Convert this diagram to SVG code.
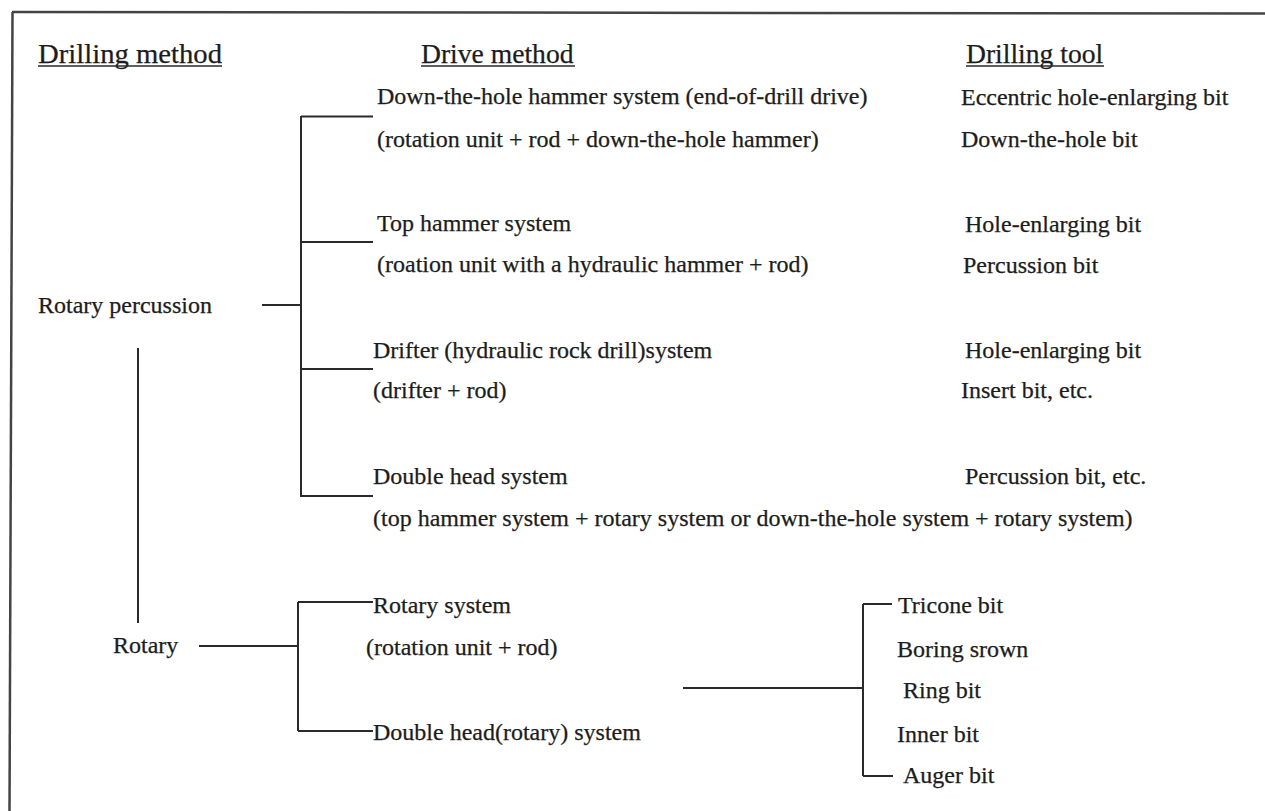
<svg xmlns="http://www.w3.org/2000/svg" width="1265" height="811" viewBox="0 0 1265 811">
<style>
text{font-family:'Liberation Serif','Times New Roman',serif;font-size:24px;fill:#1c1c1c;stroke:#1c1c1c;stroke-width:0.25}
.h{font-size:27.6px}
.ln{stroke:#2a2a2a;stroke-width:2;fill:none}
.ul{stroke:#2a2a2a;stroke-width:1.5;fill:none}
.fr{stroke:#444;stroke-width:2.5;fill:none}
</style>
<rect width="1265" height="811" fill="#fff"/>
<g id="frame">
<line class="fr" x1="12" y1="12" x2="1265" y2="13.5"/>
<line class="fr" x1="12.5" y1="12" x2="9.5" y2="811"/>
</g>
<g id="headers">
<g id="h-drilling-method"><text class="h" x="38" y="63" textLength="184" lengthAdjust="spacingAndGlyphs">Drilling method</text><line class="ul" x1="38" y1="66" x2="222" y2="66"/></g>
<g id="h-drive-method"><text class="h" x="421" y="63">Drive method</text><line class="ul" x1="421" y1="66" x2="575" y2="66"/></g>
<g id="h-drilling-tool"><text class="h" x="966" y="63">Drilling tool</text><line class="ul" x1="966" y1="66" x2="1104" y2="66"/></g>
</g>
<g id="n-rotary-percussion"><text x="38" y="313">Rotary percussion</text></g>
<g id="n-rotary"><text x="113" y="653">Rotary</text></g>
<g id="n-dth"><text x="377" y="104">Down-the-hole hammer system (end-of-drill drive)</text><text x="377" y="147">(rotation unit + rod + down-the-hole hammer)</text></g>
<g id="n-top"><text x="377" y="231">Top hammer system</text><text x="377" y="272">(roation unit with a hydraulic hammer + rod)</text></g>
<g id="n-drifter"><text x="373" y="358">Drifter (hydraulic rock drill)system</text><text x="373" y="398">(drifter + rod)</text></g>
<g id="n-double"><text x="373" y="484">Double head system</text><text x="373" y="526">(top hammer system + rotary system or down-the-hole system + rotary system)</text></g>
<g id="n-rotary-system"><text x="373" y="613">Rotary system</text><text x="366" y="655">(rotation unit + rod)</text></g>
<g id="n-double-rotary"><text x="373" y="740">Double head(rotary) system</text></g>
<g id="t-dth"><text x="961" y="105">Eccentric hole-enlarging bit</text><text x="961" y="147">Down-the-hole bit</text></g>
<g id="t-top"><text x="965" y="232">Hole-enlarging bit</text><text x="963" y="273">Percussion bit</text></g>
<g id="t-drifter"><text x="965" y="358">Hole-enlarging bit</text><text x="961" y="398">Insert bit, etc.</text></g>
<g id="t-double"><text x="965" y="484">Percussion bit, etc.</text></g>
<g id="t-rotary"><text x="898" y="613">Tricone bit</text><text x="897" y="657">Boring srown</text><text x="903" y="698">Ring bit</text><text x="897" y="742">Inner bit</text><text x="903" y="783">Auger bit</text></g>
<g id="connectors">
<line class="ln" x1="262" y1="305" x2="301" y2="305"/>
<line class="ln" x1="301" y1="116" x2="301" y2="496"/>
<line class="ln" x1="301" y1="116.5" x2="373" y2="116.5"/>
<line class="ln" x1="301" y1="242" x2="373" y2="242"/>
<line class="ln" x1="301" y1="369" x2="373" y2="369"/>
<line class="ln" x1="300" y1="496" x2="373" y2="496"/>
<line class="ln" x1="138" y1="348" x2="138" y2="623"/>
<line class="ln" x1="199" y1="646" x2="298" y2="646"/>
<line class="ln" x1="298" y1="602" x2="298" y2="731"/>
<line class="ln" x1="298" y1="602" x2="373" y2="602"/>
<line class="ln" x1="298" y1="731" x2="373" y2="731"/>
<line class="ln" x1="683" y1="688" x2="863" y2="688"/>
<line class="ln" x1="863" y1="604" x2="863" y2="776"/>
<line class="ln" x1="863" y1="604" x2="892" y2="604"/>
<line class="ln" x1="863" y1="776" x2="893" y2="776"/>
</g>
</svg>
